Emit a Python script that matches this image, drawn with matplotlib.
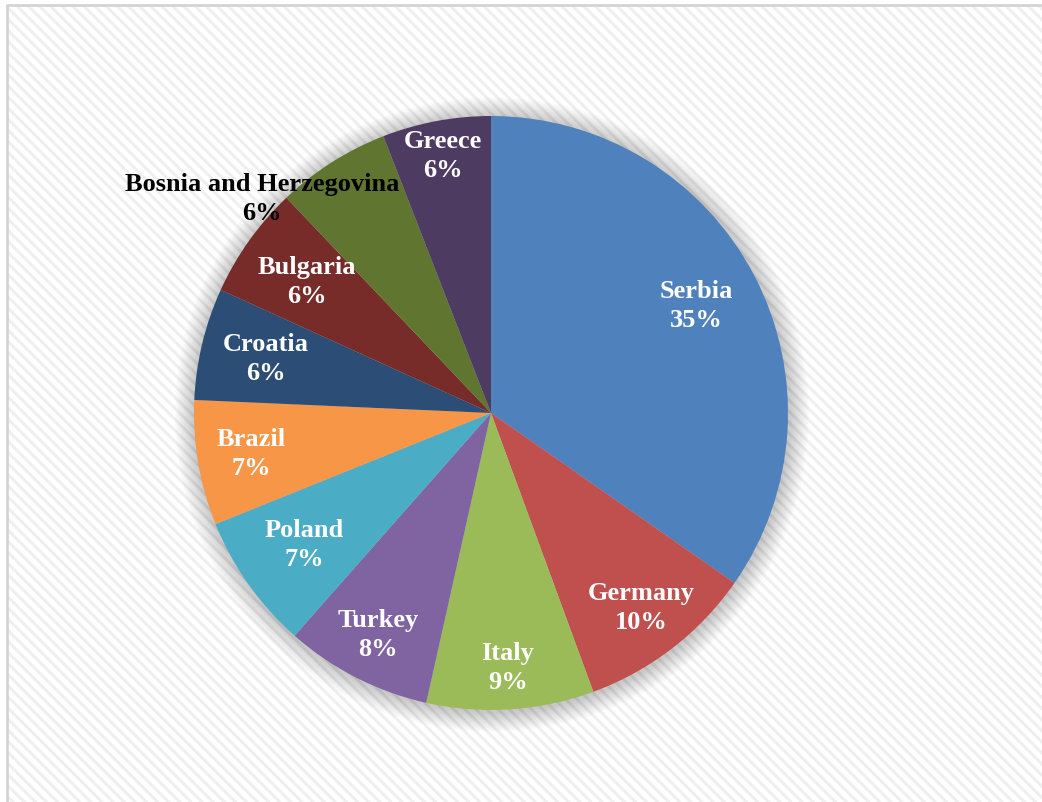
import numpy as np
import matplotlib
matplotlib.use('Agg')
import matplotlib.pyplot as plt
from matplotlib.patches import Rectangle, Circle

# data (share of total, %)
countries = ['Serbia', 'Germany', 'Italy', 'Turkey', 'Poland', 'Brazil',
             'Croatia', 'Bulgaria', 'Bosnia and Herzegovina', 'Greece']
shares = [34.7, 9.7, 9.1, 8.0, 7.4, 6.8, 6.1, 6.1, 6.2, 5.9]
pct_labels = ['35%', '10%', '9%', '8%', '7%', '7%', '6%', '6%', '6%', '6%']
colors = ['#4F81BD', '#C0504D', '#9BBB59', '#8064A2', '#4BACC6', '#F79646',
          '#2C4D75', '#772C2A', '#5F7530', '#4D3B62']
# label distance from centre (fraction of radius)
label_r = [0.78, 0.83, 0.86, 0.84, 0.77, 0.82, 0.78, 0.76, 1.06, 0.88]

plt.rcParams['hatch.linewidth'] = 2.2

fig = plt.figure(figsize=(10.42, 8.02), dpi=100)
fig.patch.set_facecolor('white')

# striped background + thin frame
bg = fig.add_axes([0, 0, 1, 1])
bg.set_xlim(0, 1042)
bg.set_ylim(802, 0)
bg.axis('off')
bg.add_patch(Rectangle((7, 5), 1040, 800, facecolor='white', edgecolor='#efefef',
                       linewidth=0, hatch='\\\\\\'))
bg.plot([7, 7, 1045], [805, 5, 5], color='#d4d4d4', lw=2)

# pie axes: centre at (491, 413) px, radius ~297 px
R = 297
half = R * 1.2
ax = fig.add_axes([(491 - half) / 1042, (802 - 413 - half) / 802,
                   2 * half / 1042, 2 * half / 802])
ax.axis('off')
ax.patch.set_alpha(0)

# soft shadow around the pie
n_sh = 18
for i in range(n_sh):
    ax.add_patch(Circle((0.003, -0.005), 1.0 + 0.0038 * (n_sh - i),
                        facecolor='black', edgecolor='none', alpha=0.011))

wedges, _ = ax.pie(shares, colors=colors, startangle=90, counterclock=False,
                   radius=1.0, wedgeprops=dict(linewidth=0))
ax.set_xlim(-1.2, 1.2)
ax.set_ylim(-1.2, 1.2)
ax.set_aspect('equal')

cum = np.cumsum([0] + shares[:-1])
for i, name in enumerate(countries):
    mid = 90 - 360 * (cum[i] + shares[i] / 2) / 100.0
    if name == 'Bosnia and Herzegovina':
        x, y = -0.77, 0.72
        col = 'black'
    else:
        x = label_r[i] * np.cos(np.radians(mid))
        y = label_r[i] * np.sin(np.radians(mid))
        col = 'white'
    ax.text(x, y, name + '\n' + pct_labels[i], ha='center', va='center',
            color=col, fontsize=19, fontweight='bold',
            family='Liberation Serif', linespacing=1.35)

fig.savefig('out.png', dpi=100)
